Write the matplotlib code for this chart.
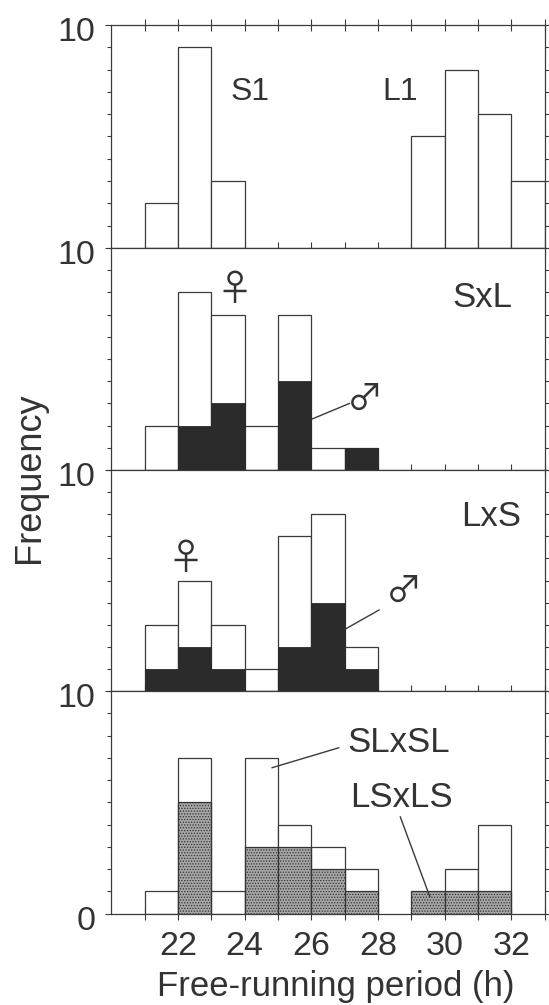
import matplotlib
matplotlib.use("Agg")
import matplotlib.pyplot as plt
from matplotlib.transforms import ScaledTranslation

# -------- Data (left edge of each 1 h bin, counts) --------
hours_s1l1 = [21, 22, 23, 29, 30, 31, 32]
counts_s1l1 = [2, 9, 3, 5, 8, 6, 3]

hours_sxl = [21, 22, 23, 24, 25, 26, 27]
counts_sxl = [2, 8, 7, 2, 7, 1, 1]
hours_sxl_male = [22, 23, 25, 27]
counts_sxl_male = [2, 3, 4, 1]

hours_lxs = [21, 22, 23, 24, 25, 26, 27]
counts_lxs = [3, 5, 3, 1, 7, 8, 2]
hours_lxs_male = [21, 22, 23, 25, 26, 27]
counts_lxs_male = [1, 2, 1, 2, 4, 1]

hours_slxsl = [21, 22, 23, 24, 25, 26, 27, 30, 31]
counts_slxsl = [1, 7, 1, 7, 4, 3, 2, 2, 4]
hours_lsxls = [22, 24, 25, 26, 27, 29, 30, 31]
counts_lsxls = [5, 3, 3, 2, 1, 1, 1, 1]

x_ticks = list(range(21, 34))
x_tick_labels = ["", "22", "", "24", "", "26", "", "28", "", "30", "", "32", ""]
y_ticks = list(range(0, 11))

INK = "#3a3a3a"
TEXT = "#333333"
FONT = "Liberation Sans"

W, H = 549, 1005
LEFT, RIGHT = 111.3, 544.5
panel_rows = [(25, 248), (248, 470), (470, 691), (691, 913.5)]

plt.rcParams["font.family"] = FONT
plt.rcParams["hatch.linewidth"] = 0.6
fig = plt.figure(figsize=(W / 100, H / 100), dpi=100)


def make_panel(top, bottom):
    ax = fig.add_axes([LEFT / W, 1 - bottom / H, (RIGHT - LEFT) / W, (bottom - top) / H])
    ax.set_xlim(20, 33)
    ax.set_ylim(0, 10)
    for spine in ax.spines.values():
        spine.set_color(INK)
        spine.set_linewidth(0.9)
    ax.set_xticks(x_ticks)
    ax.set_xticklabels([])
    ax.set_yticks(y_ticks)
    ax.set_yticklabels([])
    ax.tick_params(axis="x", direction="inout", length=9, width=0.8, color=INK, top=False)
    ax.tick_params(axis="y", direction="out", length=3.2, width=0.8, color=INK, right=True)
    return ax


def white_bars(ax, hours, counts):
    ax.bar(hours, counts, width=1, align="edge", facecolor="white", edgecolor=INK, linewidth=0.9, zorder=2)


def side_label(ax, text, x, y, size=25):
    ax.text(x, y, text, fontsize=size, color=TEXT, va="center", ha="left", zorder=5)


def symbol(ax, text, x, y, size=26):
    ax.text(x, y, text, fontsize=size, color=TEXT, ha="center", va="center",
            family=["Noto Sans CJK JP", "DejaVu Sans"], zorder=5)


def leader(ax, start, end):
    ax.annotate("", xy=start, xytext=end, zorder=6,
                arrowprops=dict(arrowstyle="-", color=INK, lw=1.0, shrinkA=0, shrinkB=0))


axes = [make_panel(t, b) for t, b in panel_rows]
ax1, ax2, ax3, ax4 = axes

# -------- S1 / L1 --------
white_bars(ax1, hours_s1l1, counts_s1l1)
side_label(ax1, "S1", 23.58, 7.0, size=23)
side_label(ax1, "L1", 28.14, 7.0, size=23)
ax1.tick_params(axis="x", top=True)

# -------- SxL --------
white_bars(ax2, hours_sxl, counts_sxl)
ax2.bar(hours_sxl_male, counts_sxl_male, width=1, align="edge", facecolor="#2b2b2b",
        edgecolor="#2b2b2b", linewidth=0.6, zorder=3)
side_label(ax2, "SxL", 30.24, 7.75)
symbol(ax2, "\u2640", 23.7, 8.1)
symbol(ax2, "\u2642", 27.6, 3.15)
leader(ax2, (26.03, 2.3), (27.15, 3.0))

# -------- LxS --------
white_bars(ax3, hours_lxs, counts_lxs)
ax3.bar(hours_lxs_male, counts_lxs_male, width=1, align="edge", facecolor="#2b2b2b",
        edgecolor="#2b2b2b", linewidth=0.6, zorder=3)
side_label(ax3, "LxS", 30.5, 7.9)
symbol(ax3, "\u2640", 22.24, 5.97)
symbol(ax3, "\u2642", 28.77, 4.47)
leader(ax3, (27.02, 2.8), (28.04, 3.67))

# -------- SLxSL / LSxLS --------
white_bars(ax4, hours_slxsl, counts_slxsl)
ax4.bar(hours_lsxls, counts_lsxls, width=1, align="edge", facecolor="#a6a6a6",
        edgecolor="#333333", linewidth=0.9, hatch="......", zorder=3)
side_label(ax4, "SLxSL", 27.07, 7.7)
side_label(ax4, "LSxLS", 27.18, 5.2)
leader(ax4, (24.82, 6.55), (26.83, 7.45))
leader(ax4, (29.56, 0.75), (28.67, 4.35))

ax4.set_xticklabels(x_tick_labels, fontsize=24.5, color=TEXT)
ax4.tick_params(axis="x", pad=8)

# -------- Y labels, sit a little under their tick --------
for ax, labels in [
    (ax1, {10: "10"}),
    (ax2, {10: "10"}),
    (ax3, {10: "10"}),
    (ax4, {10: "10", 0: "0"}),
]:
    ax.set_yticklabels([labels.get(v, "") for v in y_ticks], fontsize=24.5, color=TEXT)
    ax.tick_params(axis="y", pad=8)
    shift = ScaledTranslation(0, -4 / 100, fig.dpi_scale_trans)
    for label in ax.get_yticklabels():
        label.set_transform(label.get_transform() + shift)

# major ticks at the panel tops are longer on the left
for ax in axes:
    ax.yaxis.get_major_ticks()[-1].tick1line.set_markersize(4.5)
ax4.yaxis.get_major_ticks()[0].tick1line.set_markersize(4.5)

fig.text(336 / W, 1 - 986 / H, "Free-running period (h)", fontsize=25, color=TEXT, ha="center", va="center")
fig.text(29 / W, 1 - 478 / H, "Frequency", fontsize=26, color=TEXT, rotation=90, ha="center", va="center")

fig.savefig("out.png", dpi=100)
